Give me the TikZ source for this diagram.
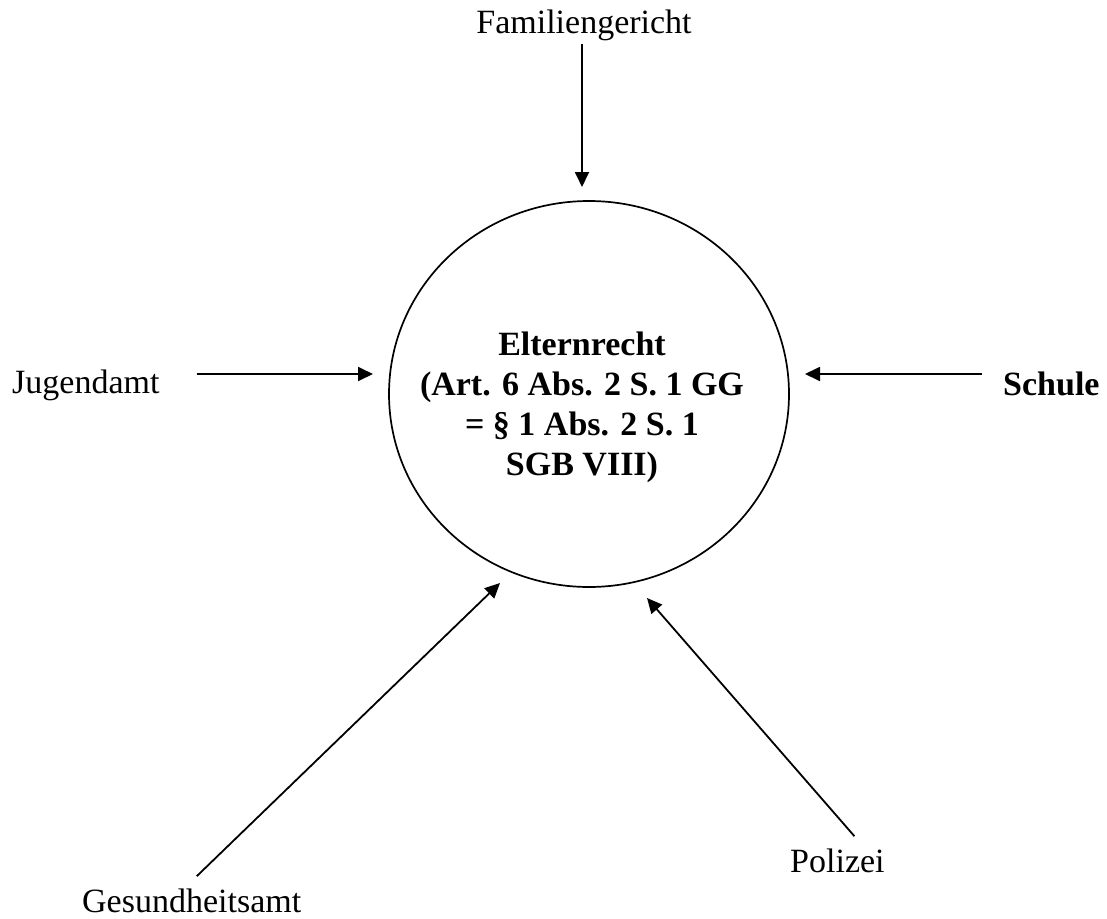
\documentclass[tikz,border=0pt]{standalone}
\usepackage{fontspec}
\setmainfont{Liberation Serif}
\usetikzlibrary{arrows.meta,shapes.geometric}
\begin{document}
\begin{tikzpicture}[x=1pt,y=-1pt,
  lbl/.style={inner sep=0pt,font=\fontsize{34}{40}\selectfont},
  arr/.style={line width=1.8pt,-{Triangle[length=15pt,width=14pt]}},
  ring/.style={draw,ellipse,line width=1.7pt,minimum width=400pt,minimum height=386pt,inner sep=0pt}]
\useasboundingbox[fill=white] (0,0) rectangle (1107,918);
\node[ring] (circ) at (589,394) {};
\node[lbl,align=center,font=\fontsize{34}{40}\selectfont\bfseries,anchor=center] (elt) at (582,407.5)
  {Elternrecht\\(Art. 6 Abs. 2 S. 1 GG\\= \S\ 1 Abs. 2 S. 1\\SGB VIII)};
\node[lbl,anchor=base] (fam) at (584,33) {Familiengericht};
\node[lbl,anchor=base west] (jug) at (12,393) {Jugendamt};
\node[lbl,anchor=base west,font=\fontsize{34}{40}\selectfont\bfseries] (sch) at (1003,395) {Schule};
\node[lbl,anchor=base west] (ges) at (82,912) {Gesundheitsamt};
\node[lbl,anchor=base west] (pol) at (790,872) {Polizei};
\coordinate (tF) at (582,187);
\coordinate (tJ) at (373,374);
\coordinate (tS) at (805,374);
\coordinate (tG) at (500,583);
\coordinate (tP) at (647,598);
\draw[arr,shorten <=3pt] (fam.south -| tF) -- (tF);
\draw[arr,shorten <=37pt] (jug.east |- tJ) -- (tJ);
\draw[arr,shorten <=21pt] (sch.west |- tS) -- (tS);
\draw[arr] ([xshift=5pt,yshift=12pt]ges.north) -- (tG);
\draw[arr] ([xshift=17pt,yshift=12pt]pol.north) -- (tP);
\end{tikzpicture}
\end{document}
